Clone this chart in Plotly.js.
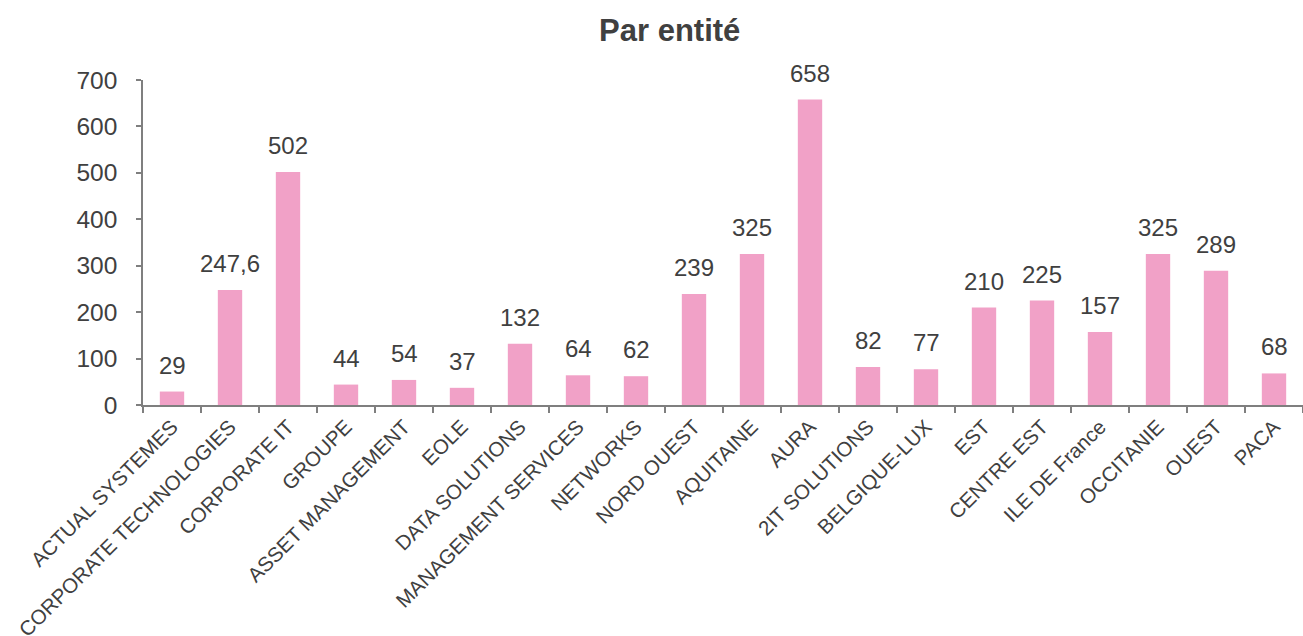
<!DOCTYPE html>
<html>
<head>
<meta charset="utf-8">
<script src="https://cdn.plot.ly/plotly-3.0.1.min.js"></script>
<style>
  body { margin: 0; background: #fff; }
  #graph { width: 1303px; height: 636px; }
</style>
</head>
<body>
<div id="graph"></div>
<script>
// données par entité
const entites = ['ACTUAL SYSTEMES', 'CORPORATE TECHNOLOGIES', 'CORPORATE IT', 'GROUPE',
  'ASSET MANAGEMENT', 'EOLE', 'DATA SOLUTIONS', 'MANAGEMENT SERVICES', 'NETWORKS',
  'NORD OUEST', 'AQUITAINE', 'AURA', '2IT SOLUTIONS', 'BELGIQUE-LUX', 'EST',
  'CENTRE EST', 'ILE DE France', 'OCCITANIE', 'OUEST', 'PACA'];
const valeurs = [29, 247.6, 502, 44, 54, 37, 132, 64, 62, 239, 325, 658, 82, 77, 210, 225, 157, 325, 289, 68];
const etiquettes = valeurs.map(v => String(v).replace('.', ','));

const police = 'Liberation Sans, Arial, sans-serif';

let data = [{
  type: 'bar',
  x: entites,
  y: valeurs,
  width: 0.42,
  marker: {color: '#F1A1C7'},
  hoverinfo: 'x+y'
}];

// etiquettes de valeur au-dessus des barres
let annotations = entites.map((e, i) => ({
  x: e,
  y: valeurs[i],
  text: etiquettes[i],
  showarrow: false,
  yanchor: 'bottom',
  yshift: 11,
  font: {family: police, size: 24, color: '#404040'}
}));

let layout = {
  width: 1303,
  height: 636,
  margin: {l: 143, r: 0, t: 80, b: 231},
  paper_bgcolor: '#fff',
  plot_bgcolor: '#fff',
  showlegend: false,
  title: {
    text: '<b>Par entité</b>',
    x: 0.514,
    xanchor: 'center',
    y: 0.953,
    yanchor: 'middle',
    font: {family: police, size: 31, color: '#404040'}
  },
  xaxis: {
    type: 'category',
    range: [-0.5, 19.5],
    tickangle: -45,
    tickson: 'boundaries',
    ticks: 'outside',
    ticklen: 6,
    tickwidth: 1.5,
    tickcolor: '#7f7f7f',
    showline: true,
    linecolor: '#7f7f7f',
    linewidth: 1.5,
    showgrid: false,
    tickfont: {family: police, size: 20.5, color: '#404040'}
  },
  yaxis: {
    range: [0, 700],
    dtick: 100,
    ticks: 'outside',
    ticklen: 5,
    tickwidth: 1.5,
    tickcolor: '#7f7f7f',
    showline: true,
    linecolor: '#7f7f7f',
    linewidth: 1.5,
    showgrid: false,
    zeroline: false,
    ticklabelstandoff: 14,
    tickfont: {family: police, size: 24.5, color: '#404040'}
  },
  annotations: annotations
};

Plotly.newPlot('graph', data, layout, {displaylogo: false, displayModeBar: false});
</script>
</body>
</html>
